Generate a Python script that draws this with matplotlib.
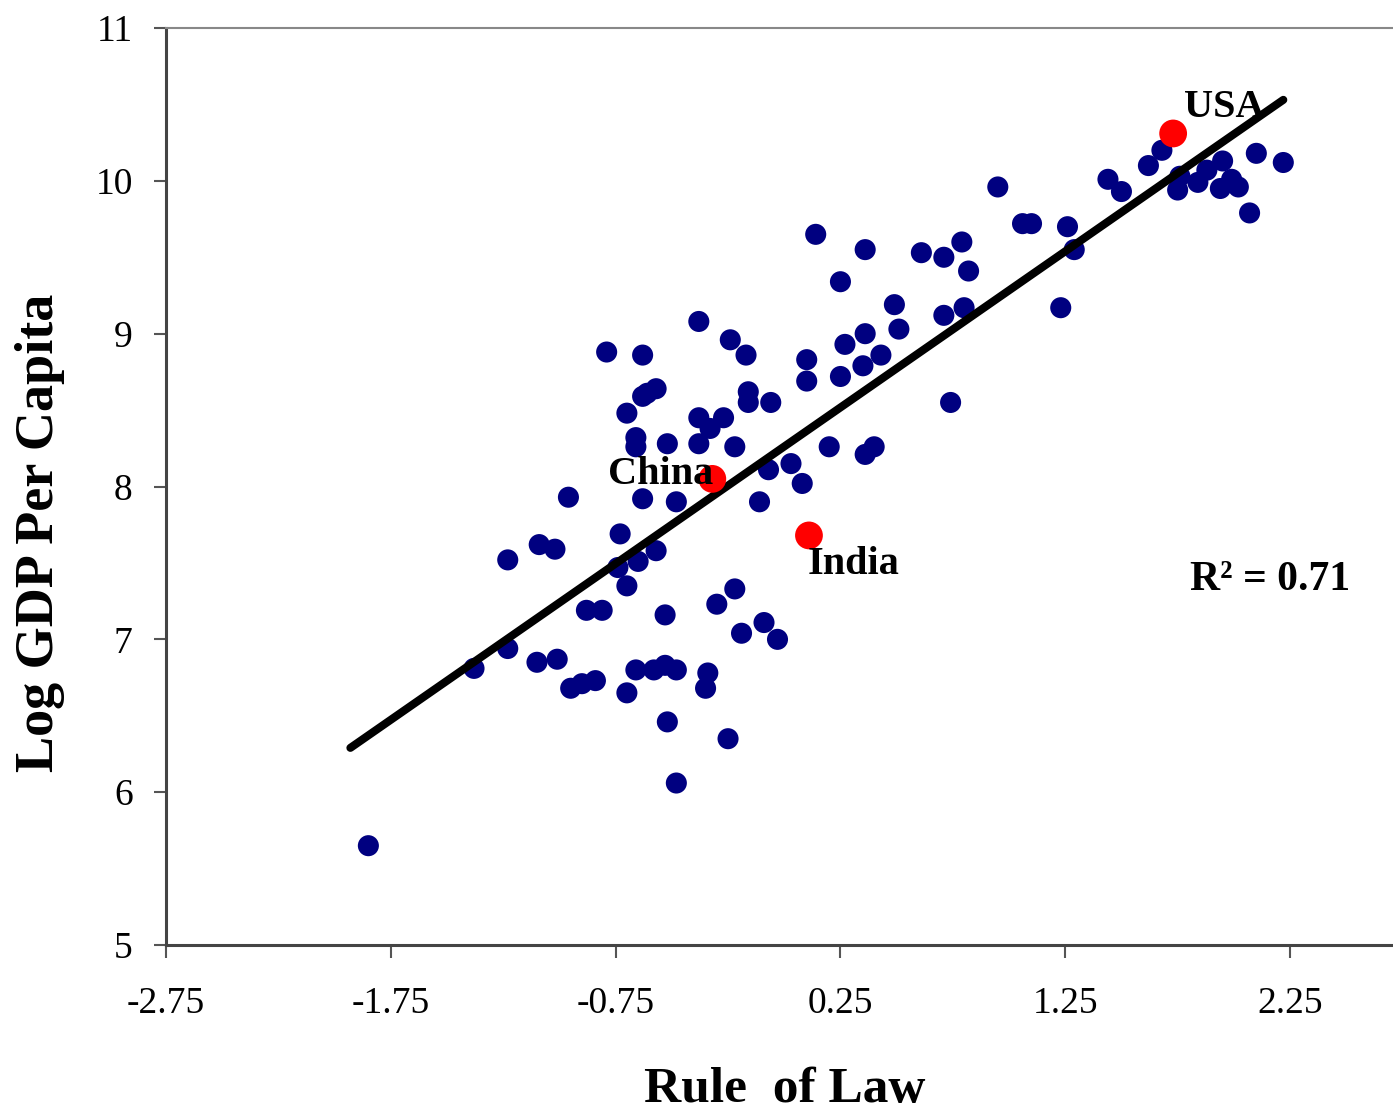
import matplotlib
matplotlib.use("Agg")
import matplotlib.pyplot as plt

# Rule of law index vs log GDP per capita
rule_of_law = [
    -1.85, -1.38, -1.23, -1.23, -1.10, -1.09, -1.02, -1.01, -0.96, -0.95,
    -0.90, -0.84, -0.88, -0.81, -0.79, -0.73, -0.74, -0.70, -0.70, -0.70,
    -0.66, -0.66, -0.66, -0.63, -0.63, -0.63, -0.65, -0.61, -0.58, -0.57,
    -0.57, -0.53, -0.53, -0.52, -0.52, -0.48, -0.48, -0.48, -0.38, -0.38,
    -0.38, -0.33, -0.34, -0.35, -0.30, -0.27, -0.25, -0.24, -0.22, -0.22,
    -0.19, -0.17, -0.16, -0.16, -0.11, -0.09, -0.07, -0.06, -0.03, 0.03,
    0.08, 0.10, 0.10, 0.14, 0.20, 0.25, 0.25, 0.27, 0.35, 0.36,
    0.36, 0.36, 0.40, 0.43, 0.49, 0.51, 0.61, 0.71, 0.71, 0.74,
    0.79, 0.80, 0.82, 0.95, 1.06, 1.10, 1.23, 1.26, 1.29, 1.44,
    1.50, 1.62, 1.68, 1.76, 1.75, 1.84, 1.88, 1.95, 1.94, 1.99,
    2.02, 2.07, 2.10, 2.22,
]
log_gdp = [
    5.65, 6.81, 7.52, 6.94, 6.85, 7.62, 7.59, 6.87, 7.93, 6.68,
    6.71, 6.73, 7.19, 7.19, 8.88, 7.69, 7.47, 8.48, 7.35, 6.65,
    8.32, 8.26, 6.80, 8.86, 8.59, 7.92, 7.51, 8.61, 6.80, 8.64,
    7.58, 7.16, 6.83, 8.28, 6.46, 6.06, 7.90, 6.80, 9.08, 8.45,
    8.28, 8.38, 6.78, 6.68, 7.23, 8.45, 6.35, 8.96, 8.26, 7.33,
    7.04, 8.86, 8.62, 8.55, 7.90, 7.11, 8.11, 8.55, 7.00, 8.15,
    8.02, 8.83, 8.69, 9.65, 8.26, 9.34, 8.72, 8.93, 8.79, 9.55,
    9.00, 8.21, 8.26, 8.86, 9.19, 9.03, 9.53, 9.12, 9.50, 8.55,
    9.60, 9.17, 9.41, 9.96, 9.72, 9.72, 9.17, 9.70, 9.55, 10.01,
    9.93, 10.10, 10.20, 10.03, 9.94, 9.99, 10.07, 10.13, 9.95, 10.01,
    9.96, 9.79, 10.18, 10.12,
]

highlight_names = ["USA", "China", "India"]
highlight_x = [1.73, -0.32, 0.11]
highlight_y = [10.31, 8.05, 7.68]

trend_x = [-1.93, 2.22]
trend_y = [6.29, 10.53]

x_ticks = [-2.75, -1.75, -0.75, 0.25, 1.25, 2.25]
x_tick_labels = ["-2.75", "-1.75", "-0.75", "0.25", "1.25", "2.25"]
y_ticks = [5, 6, 7, 8, 9, 10, 11]
r2_text = "R² = 0.71"

plt.rcParams["font.family"] = ["Liberation Serif", "DejaVu Serif"]

fig = plt.figure(figsize=(13.93, 11.16), dpi=100)
ax = fig.add_axes([0.1192, 0.1532, 0.8808, 0.8217])

ax.plot(trend_x, trend_y, color="black", lw=5.8, solid_capstyle="round", zorder=3)
ax.scatter(rule_of_law, log_gdp, s=230, color="#000080", edgecolors="none", zorder=2)
ax.scatter(highlight_x, highlight_y, s=400, color="#FF0000", edgecolors="none", zorder=4)

ax.set_xlim(-2.75, 2.708)
ax.set_ylim(5, 11)
ax.set_xticks(x_ticks)
ax.set_xticklabels(x_tick_labels)
ax.set_yticks(y_ticks)

ax.tick_params(axis="both", direction="out", length=9, width=1.5, color="#555555",
               labelsize=27, labelcolor="black")
ax.tick_params(axis="y", pad=15)
ax.tick_params(axis="x", pad=21)

for side in ["left", "bottom"]:
    ax.spines[side].set_color("#444444")
    ax.spines[side].set_linewidth(2.2)
ax.spines["top"].set_color("#888888")
ax.spines["top"].set_linewidth(1.5)
ax.spines["right"].set_visible(False)

# Annotations
ax.text(1.78, 10.48, highlight_names[0], fontsize=29,
        fontweight="bold", ha="left", va="center", zorder=5)
ax.text(-0.315, 8.08, highlight_names[1], fontsize=29,
        fontweight="bold", ha="right", va="center", zorder=5)
ax.text(0.105, 7.49, highlight_names[2], fontsize=29,
        fontweight="bold", ha="left", va="center", zorder=5)
ax.text(2.16, 7.39, r2_text, fontsize=30, fontweight="bold", ha="center", va="center")

fig.text(0.029, 0.523, "Log GDP Per Capita", rotation=90, fontsize=39,
         fontweight="bold", ha="center", va="center")
fig.text(0.5635, 0.023, "Rule  of Law", fontsize=37, fontweight="bold",
         ha="center", va="center")

fig.savefig("out.png", dpi=100)
